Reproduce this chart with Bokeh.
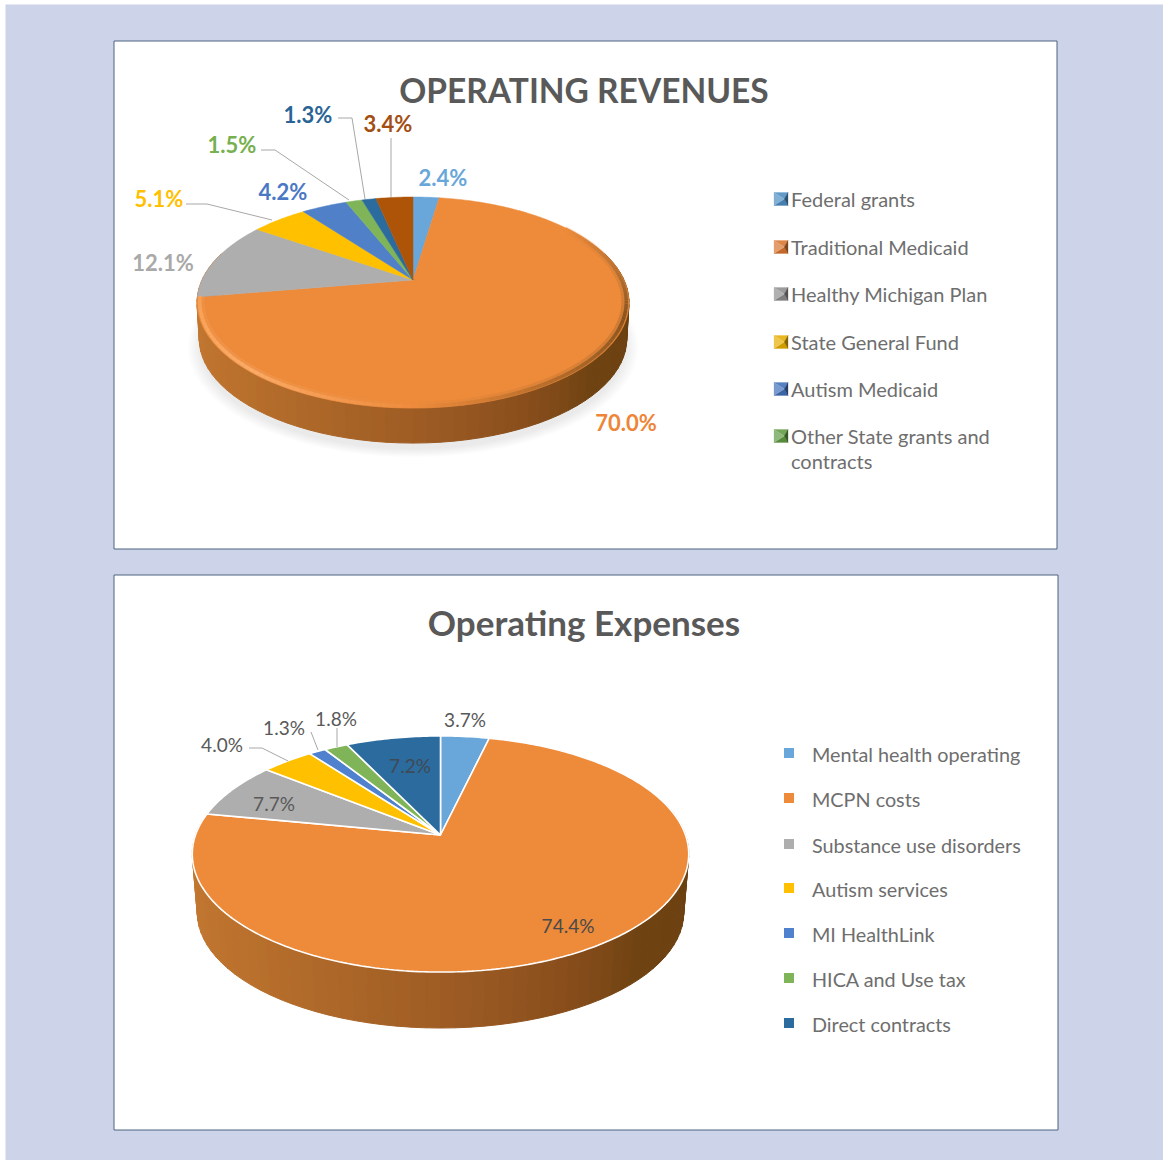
import math
from bokeh.plotting import figure
from bokeh.models import Range1d
from bokeh.core.properties import value
from bokeh.embed import file_html
from bokeh.resources import INLINE

# ---------- data ----------
rev_title = "OPERATING REVENUES"
rev_values = [2.4, 70.0, 12.1, 5.1, 4.2, 1.5, 1.3, 3.4]
rev_colors = ["#69a6d9", "#ed8b3b", "#aeaeae", "#ffc000", "#5080c8", "#7fb558", "#2b6b9d", "#ad5409"]
rev_label_colors = ["#69a6d9", "#ee8538", "#a9a9a9", "#ffc000", "#4a78c4", "#76b050", "#2a6496", "#a34e12"]
rev_legend = ["Federal grants", "Traditional Medicaid", "Healthy Michigan Plan",
              "State General Fund", "Autism Medicaid", "Other State grants and\ncontracts"]

exp_title = "Operating Expenses"
exp_values = [3.7, 74.4, 7.7, 4.0, 1.3, 1.8, 7.2]
exp_colors = ["#69a6d9", "#ed8b3b", "#aeaeae", "#ffc000", "#4f81cf", "#7fb558", "#2b6b9d"]
exp_legend = ["Mental health operating", "MCPN costs", "Substance use disorders",
              "Autism services", "MI HealthLink", "HICA and Use tax", "Direct contracts"]

# ---------- style / layout ----------
BG = "#cdd3e8"
FRAME = "#4d6480"
FONT = value("Lato")
TXT = "#6e6e6e"
SIDE_STOPS = [(0.0, "#cc7f36"), (0.3, "#b9702c"), (0.5, "#9f5d24"), (0.62, "#894e1c"),
              (0.72, "#6f4211"), (1.0, "#6a3f10")]


def hex2rgb(h):
    return tuple(int(h[i:i + 2], 16) for i in (1, 3, 5))


def mix(a, b, t):
    ra, rb = hex2rgb(a), hex2rgb(b)
    return "#%02x%02x%02x" % tuple(round(ra[i] + (rb[i] - ra[i]) * t) for i in range(3))


def ramp(stops, t):
    for (t0, c0), (t1, c1) in zip(stops, stops[1:]):
        if t <= t1:
            return mix(c0, c1, (t - t0) / (t1 - t0))
    return stops[-1][1]


class Pie3D:
    """Pie seen in perspective: angle runs clockwise from the far side."""

    def __init__(self, cx, cy, rx, ry, k, depth, shrink):
        self.cx, self.cy, self.rx, self.ry, self.k = cx, cy, rx, ry, k
        self.depth, self.shrink = depth, shrink

    def pt(self, a, r=1.0, lower=False):
        u, v = math.sin(a) * r, math.cos(a) * r
        s = 1 / (1 + self.k * v)
        if lower:
            s *= self.shrink
        return (self.cx + self.rx * u * s, self.cy - self.ry * v * s + (self.depth if lower else 0))

    def draw_side(self, p, n=72):
        a0, a1 = math.radians(74), math.radians(286)
        xs, ys, cs = [], [], []
        for i in range(n):
            t0, t1 = i / n, (i + 1) / n
            b0, b1 = a1 + (a0 - a1) * t0, a1 + (a0 - a1) * t1
            pts = [self.pt(b0), self.pt(b1), self.pt(b1, lower=True), self.pt(b0, lower=True)]
            xs.append([q[0] for q in pts])
            ys.append([q[1] for q in pts])
            cs.append(ramp(SIDE_STOPS, (i + 0.5) / n))
        p.patches(xs, ys, fill_color=cs, line_color=cs, line_width=1)

    def draw_face(self, p, values, colors, line_color=None, line_width=0):
        total = sum(values)
        a, xs, ys = 0.0, [], []
        for val in values:
            span = val / total * 2 * math.pi
            m = max(2, int(span * 60))
            pts = [(self.cx, self.cy)] + [self.pt(a + span * j / m) for j in range(m + 1)]
            xs.append([q[0] for q in pts])
            ys.append([q[1] for q in pts])
            a += span
        p.patches(xs, ys, fill_color=colors, line_color=line_color if line_color else colors,
                  line_width=line_width if line_color else 0.5)


def labels(p, pos, texts, colors, size, style="normal"):
    p.text([q[0] for q in pos], [q[1] for q in pos], text=texts, text_color=colors,
           text_font=FONT, text_font_size=size, text_font_style=style,
           text_align="center", text_baseline="middle")


def leaders(p, paths):
    p.multi_line([[q[0] for q in s] for s in paths], [[q[1] for q in s] for s in paths],
                 line_color="#a8a8a8", line_width=1)


def fmt(values):
    return ["%.1f%%" % x for x in values]


p = figure(width=1158, height=1156, x_range=Range1d(5.5, 1163.5), y_range=Range1d(1160.5, 4.5),
           toolbar_location=None, output_backend="svg", x_axis_type=None, y_axis_type=None,
           min_border=0, background_fill_color=BG, border_fill_color=BG,
           outline_line_color=None, margin=(4, 0, 0, 5))
p.grid.visible = False

# panels
p.quad(left=[114, 114], right=[1057, 1058], top=[41, 575], bottom=[549, 1130],
       fill_color="white", line_color=FRAME, line_width=1)

# ---------- top chart ----------
pie1 = Pie3D(413, 280, 211, 100.7, 0.2136, 36.3, 0.99)

# soft ground shadow
for i in range(7):
    sh = Pie3D(413, 280 + 44, 211 + 9 - i * 2, 100.7 + 4 - i, 0.2136, 0, 1)
    pts = [sh.pt(j / 90 * 2 * math.pi) for j in range(90)]
    p.patch([q[0] for q in pts], [q[1] for q in pts], fill_color="#000000", fill_alpha=0.012, line_color=None)

pie1.draw_side(p)
pie1.draw_face(p, rev_values, rev_colors)

# bevel along the rim of the face
bev_stops = [(0.0, "#ed8b3b"), (0.17, "#a86a30"), (0.27, "#7f4e1c"), (0.45, "#b06a2a"),
             (0.61, "#ee8c3e"), (0.8, "#fbae6c"), (1.0, "#f8a35a")]
n = 120
start, stop = math.radians(55), math.radians(261)
for r, w, alpha in [(0.982, 7.0, 0.25), (0.988, 3.5, 0.9)]:
    bx, by, bc = [], [], []
    for i in range(n):
        t0, t1 = i / n, (i + 1) / n
        q0 = pie1.pt(start + (stop - start) * t0, r)
        q1 = pie1.pt(start + (stop - start) * t1, r)
        bx.append([q0[0], q1[0]])
        by.append([q0[1], q1[1]])
        bc.append(ramp(bev_stops, (i + 0.5) / n))
    p.multi_line(bx, by, line_color=bc, line_width=w, line_alpha=alpha, line_cap="butt")

leaders(p, [[(186, 204), (207, 204), (272, 220)],
            [(261, 150), (275, 150), (349, 200)],
            [(338, 118), (352, 118), (365, 199)],
            [(391, 138), (391, 197)]])
labels(p, [(443, 177), (626, 422), (163, 262), (159, 198), (283, 191), (232, 144), (308, 114), (388, 123)],
       fmt(rev_values), rev_label_colors, "22px", "bold")

p.text([584], [90], text=[rev_title], text_color="#595959", text_font=FONT, text_font_size="33.5px",
       text_font_style="bold", text_align="center", text_baseline="middle")

# legend with bevelled keys
leg_ys = [199, 247, 294, 342, 389, 436]
leg_cols = ["#4d8dc2", "#d9752e", "#8e8e8e", "#e6ad00", "#3f6fb8", "#5f9a42"]
for name, y, c in zip(rev_legend, leg_ys, leg_cols):
    x0, x1, y0, y1 = 774, 788, y - 6.5, y + 6.5
    xm, ym = (x0 + 2 * x1) / 3 + 1, y
    tris_x = [[x0, x1, xm], [x0, x1, xm], [x0, x0, xm], [x1, x1, xm]]
    tris_y = [[y0, y0, ym], [y1, y1, ym], [y0, y1, ym], [y0, y1, ym]]
    cols = [mix(c, "#ffffff", 0.12), mix(c, "#000000", 0.1), mix(c, "#ffffff", 0.3), mix(c, "#000000", 0.42)]
    p.patches(tris_x, tris_y, fill_color=cols, line_color=cols, line_width=0.3)
    for j, line in enumerate(name.split("\n")):
        p.text([791], [y + j * 25], text=[line], text_color=TXT, text_font=FONT, text_font_size="20px",
               text_align="left", text_baseline="middle")

# ---------- bottom chart ----------
pie2 = Pie3D(440.5, 835, 245, 115, 0.161, 58.7, 0.98)
pie2.draw_side(p)
pie2.draw_face(p, exp_values, exp_colors, line_color="white", line_width=1.6)

leaders(p, [[(249, 748), (262, 748), (288, 761)],
            [(311, 732), (318, 750)],
            [(337, 728), (337, 747)]])
labels(p, [(465, 719), (568, 925), (274, 803), (222, 744), (284, 727), (336, 718), (410, 765)],
       fmt(exp_values), ["#595959", "#494949", "#595959", "#595959", "#595959", "#595959", "#3f4a55"], "19px")

p.text([584], [622], text=[exp_title], text_color="#595959", text_font=FONT, text_font_size="35px",
       text_font_style="bold", text_align="center", text_baseline="middle")

leg2_ys = [753, 798, 844, 888, 933, 978, 1023]
p.rect([789] * 7, leg2_ys, width=10, height=10, fill_color=exp_colors, line_color=None)
p.text([812] * 7, [y + 1 for y in leg2_ys], text=exp_legend, text_color=TXT, text_font=FONT,
       text_font_size="19.8px", text_align="left", text_baseline="middle")

open("out.html", "w").write(file_html(p, INLINE))
